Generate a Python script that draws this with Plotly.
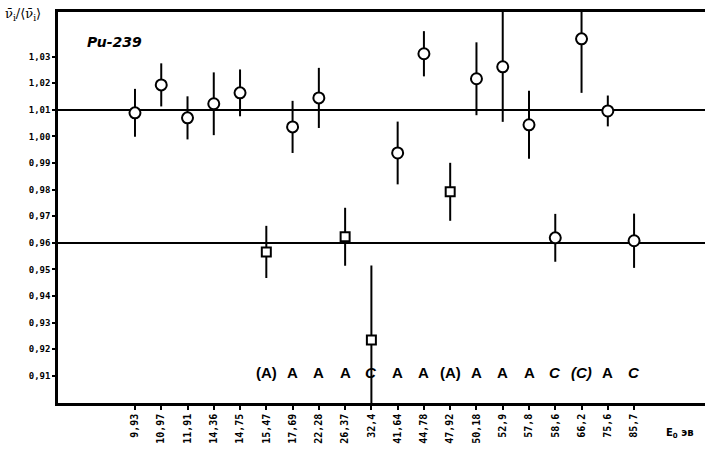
import plotly.graph_objects as go

energies = ["9,93", "10,97", "11,91", "14,36", "14,75", "15,47", "17,69", "22,28", "26,37", "32,4",
            "41,64", "44,78", "47,92", "50,18", "52,9", "57,8", "58,6", "66,2", "75,6", "85,7"]
ratio = [1.0089, 1.0194, 1.0070, 1.0123, 1.0164, 0.9566, 1.0036, 1.0145, 0.9623, 0.9235,
         0.9938, 1.0311, 0.9792, 1.0217, 1.0262, 1.0044, 0.9619, 1.0367, 1.0096, 0.9608]
error = [0.0090, 0.0081, 0.0081, 0.0118, 0.0088, 0.0098, 0.0098, 0.0113, 0.0109, 0.0280,
         0.0118, 0.0085, 0.0109, 0.0137, 0.0207, 0.0128, 0.0090, 0.0203, 0.0058, 0.0102]
symbols = ["circle"] * 5 + ["square", "circle", "circle", "square", "square",
           "circle", "circle", "square"] + ["circle"] * 7
spin_labels = ["", "", "", "", "", "(A)", "A", "A", "A", "C", "A", "A", "(A)", "A", "A", "A", "C", "(C)", "A", "C"]
ref_levels = [1.01, 0.96]
ytick_vals = [1.03, 1.02, 1.01, 1.00, 0.99, 0.98, 0.97, 0.96, 0.95, 0.94, 0.93, 0.92, 0.91]
ytick_text = ["1,03", "1,02", "1,01", "1,00", "0,99", "0,98", "0,97", "0,96", "0,95", "0,94", "0,93", "0,92", "0,91"]

fig = go.Figure()

for lvl in ref_levels:
    fig.add_shape(type="line", xref="paper", x0=0, x1=1, yref="y", y0=lvl, y1=lvl,
                  line=dict(color="black", width=2), layer="below")

fig.add_trace(go.Scatter(
    x=energies, y=ratio, mode="markers",
    error_y=dict(type="data", array=error, visible=True, thickness=2, width=0, color="black"),
    marker=dict(symbol=symbols, size=[9 if s == "square" else 11 for s in symbols],
                color="white", opacity=1, line=dict(color="black", width=2)),
    showlegend=False, cliponaxis=True,
))

for e, lab in zip(energies, spin_labels):
    if lab:
        italic = "C" in lab
        fig.add_annotation(x=e, y=0.051, xref="x", yref="paper", text=("<i>%s</i>" % lab) if italic else lab,
                           showarrow=False, font=dict(family="Liberation Sans", size=15, color="black", weight="bold"))

fig.add_annotation(x=-0.085, y=1.0, xref="paper", yref="paper", yshift=8, xanchor="left", yanchor="top",
                   text="ν̄<sub>i</sub>/⟨ν̄<sub>i</sub>⟩", showarrow=False,
                   font=dict(family="DejaVu Serif", size=13, color="black"))
fig.add_annotation(x=0.042, y=0.95, xref="paper", yref="paper", text="<b><i>Pu-239</i></b>",
                   showarrow=False, xanchor="left", font=dict(family="DejaVu Sans", size=14, color="black"))
fig.add_annotation(x=0.985, y=-0.1, xref="paper", yref="paper", text="<b>E<sub>0</sub> эв</b>",
                   showarrow=False, font=dict(family="DejaVu Sans", size=10, color="black"))

fig.update_layout(
    width=705, height=449, margin=dict(l=58, r=0, t=12, b=46),
    paper_bgcolor="white", plot_bgcolor="white",
    xaxis=dict(type="category", range=[-2.93, 21.7], showgrid=False, zeroline=False,
               showline=True, linecolor="black", linewidth=2.5, mirror=True,
               ticks="outside", ticklen=4, tickwidth=1.5, tickcolor="black", tickangle=-90,
               tickfont=dict(family="DejaVu Sans Mono", size=10, color="black", weight="bold")),
    yaxis=dict(range=[0.8998, 1.0468], showgrid=False, zeroline=False,
               showline=True, linecolor="black", linewidth=2.5,
               tickvals=ytick_vals, ticktext=ytick_text,
               ticks="outside", ticklen=3, tickwidth=1.5, tickcolor="black",
               tickfont=dict(family="DejaVu Sans Mono", size=9, color="black", weight="bold")),
)

fig.write_html("out.html")
